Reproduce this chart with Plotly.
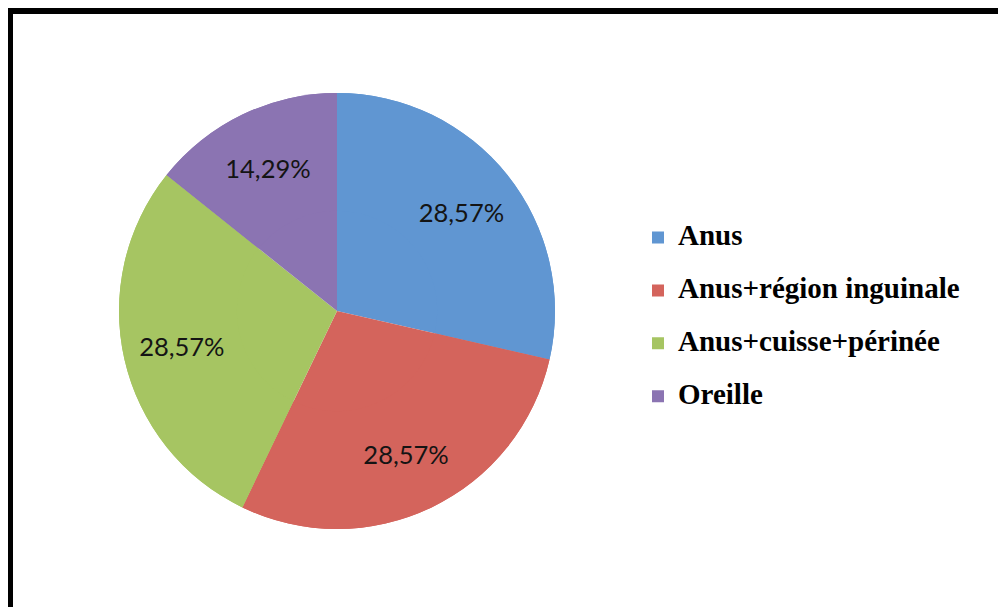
import plotly.graph_objects as go

categories = ["Anus", "Anus+région inguinale", "Anus+cuisse+périnée", "Oreille"]
counts = [2, 2, 2, 1]
colors = ["#6096D2", "#D4645C", "#A6C562", "#8B74B2"]

W, H = 1006, 607
OFF = 8  # page body offset in the browser

legend_labels = [f"<span style='font-size:29px'>{c}</span><br>&nbsp;" for c in categories]
domain = dict(x=[(119 - OFF) / W, (555 - OFF) / W], y=[1 - (529 - OFF) / H, 1 - (93 - OFF) / H])

fig = go.Figure()

# full pie underneath (fills the centre)
fig.add_trace(go.Pie(
    labels=legend_labels,
    values=counts,
    sort=False,
    direction="clockwise",
    rotation=0,
    marker=dict(colors=colors, line=dict(width=0)),
    textinfo="none",
    hoverinfo="skip",
    showlegend=False,
    domain=domain,
))

# ring on top carrying the percentage labels (pushes text outward)
fig.add_trace(go.Pie(
    labels=legend_labels,
    values=counts,
    sort=False,
    direction="clockwise",
    rotation=0,
    hole=0.46,
    marker=dict(colors=colors, line=dict(width=0)),
    texttemplate="%{percent:.2%}",
    textposition="inside",
    insidetextorientation="horizontal",
    textfont=dict(family="Lato", size=25.5, color="#141414"),
    hoverinfo="skip",
    domain=domain,
))

fig.update_layout(
    width=W,
    height=H,
    margin=dict(l=0, r=0, t=0, b=0),
    paper_bgcolor="white",
    plot_bgcolor="white",
    separators=",.",
    showlegend=True,
    legend=dict(
        x=(638 - OFF) / W,
        y=1 - (218.5 - OFF) / H,
        xanchor="left",
        yanchor="top",
        font=dict(family="Liberation Serif", size=19.2, color="black", weight="bold"),
        valign="top",
        bgcolor="rgba(0,0,0,0)",
        borderwidth=0,
    ),
    shapes=[
        dict(type="rect", xref="paper", yref="paper", x0=0, x1=1.0, y0=1 - 6 / H, y1=1.0,
             fillcolor="black", line=dict(width=0), layer="above"),
        dict(type="rect", xref="paper", yref="paper", x0=0, x1=5 / W, y0=0, y1=1.0,
             fillcolor="black", line=dict(width=0), layer="above"),
    ],
)

fig.write_html("out.html")
